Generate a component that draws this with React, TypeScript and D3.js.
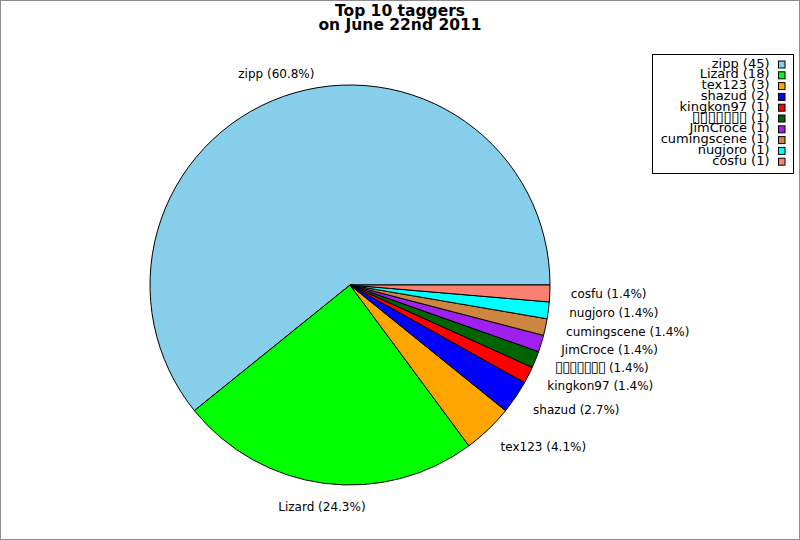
import React from 'react';
import * as d3 from 'd3';

const names = ['zipp', 'Lizard', 'tex123', 'shazud', 'kingkon97', '\u25AF\u25AF\u25AF\u25AF\u25AF\u25AF\u25AF', 'JimCroce', 'cumingscene', 'nugjoro', 'cosfu'];
const counts = [45, 18, 3, 2, 1, 1, 1, 1, 1, 1];
const colors = ['#87CEEB', '#00FF00', '#FFA500', '#0000FF', '#FF0000', '#006400', '#A020F0', '#CD853F', '#00FFFF', '#FA8072'];
const titleLines = ['Top 10 taggers', 'on June 22nd 2011'];

const W = 800, H = 540;
const CX = 350, CY = 285, RAD = 200;
const FONT = 'DejaVu Sans, sans-serif';

function alignFrac(phiDeg: number) {
  const p = ((phiDeg % 360) + 360) % 360;
  if (p <= 45 || p >= 315) return 0;
  if (p < 67.5) return ((p - 45) / 22.5) * 0.5;
  if (p <= 112.5) return 0.5;
  if (p < 135) return 0.5 + ((p - 112.5) / 22.5) * 0.5;
  if (p <= 225) return 1;
  if (p < 247.5) return 1 - ((p - 225) / 22.5) * 0.5;
  if (p <= 292.5) return 0.5;
  return 0.5 - ((p - 292.5) / 22.5) * 0.5;
}

function addName(sel: d3.Selection<SVGTextElement, unknown, null, undefined>, name: string, suffix: string, boxRun: number, boxSize: number) {
  if (/^\u25AF+$/.test(name)) {
    const ts = sel.append('tspan').attr('font-family', 'DejaVu Sans').attr('font-size', boxSize).text(name);
    const w = (ts.node() as SVGTSpanElement).getComputedTextLength();
    ts.attr('letter-spacing', (boxRun - w) / name.length);
    sel.append('tspan').text(' ' + suffix);
  } else {
    sel.text(name + ' ' + suffix);
  }
}

export default function App() {
  const ref = React.useRef<SVGSVGElement>(null);
  React.useEffect(() => {
    const svg = d3.select(ref.current as SVGSVGElement);
    svg.selectAll('*').remove();

    svg.append('rect').attr('x', 0).attr('y', 0).attr('width', W).attr('height', H).attr('fill', '#fff');
    svg.append('rect').attr('x', 0.5).attr('y', 0.5).attr('width', W - 1).attr('height', H - 1)
      .attr('fill', 'none').attr('stroke', '#8c8c8c').attr('stroke-width', 1);

    // title
    const title = svg.append('g');
    titleLines.forEach((t, i) => {
      title.append('text').attr('x', 400).attr('y', 15.5 + i * 14)
        .attr('text-anchor', 'middle').attr('font-family', FONT).attr('font-weight', 'bold')
        .attr('font-size', 15.5).attr('fill', '#000').text(t);
    });

    const total = d3.sum(counts);
    const pie = d3.pie<number>().sort(null).value((d) => d)
      .startAngle(Math.PI / 2).endAngle(Math.PI / 2 - 2 * Math.PI);
    const arcs = pie(counts);
    const arc = d3.arc<d3.PieArcDatum<number>>().innerRadius(0).outerRadius(RAD);

    const g = svg.append('g').attr('transform', `translate(${CX},${CY})`);
    g.selectAll('path').data(arcs).enter().append('path')
      .attr('d', (d) => arc(d) as string)
      .attr('fill', (_d, i) => colors[i])
      .attr('stroke', '#000').attr('stroke-width', 1).attr('stroke-linejoin', 'round');

    // slice labels
    arcs.forEach((a, i) => {
      const theta = (a.startAngle + a.endAngle) / 2;
      const phi = Math.PI / 2 - theta;
      const phiDeg = (phi * 180) / Math.PI;
      const x = CX + 221 * Math.cos(phi);
      const y = CY - 224 * Math.sin(phi);
      const t = svg.append('text').attr('x', x).attr('y', y + 3.9)
        .attr('font-family', FONT).attr('font-size', 12).attr('fill', '#000');
      addName(t, names[i], `(${((a.value / total) * 100).toFixed(1)}%)`, 50, 15);
      const w = (t.node() as SVGTextElement).getComputedTextLength();
      t.attr('x', x - alignFrac(phiDeg) * w);
    });

    // legend
    const lg = svg.append('g');
    lg.append('rect').attr('x', 652.5).attr('y', 54.5).attr('width', 141).attr('height', 119)
      .attr('fill', '#fff').attr('stroke', '#000').attr('stroke-width', 1);
    names.forEach((n, i) => {
      const base = 67.5 + i * 10.8;
      const t = lg.append('text').attr('x', 769.5).attr('y', base).attr('text-anchor', 'end')
        .attr('font-family', FONT).attr('font-size', 13).attr('fill', '#000');
      addName(t, n, `(${counts[i]})`, 55, 16);
      lg.append('rect').attr('x', 778.5).attr('y', 61 + i * 10.8).attr('width', 6.5).attr('height', 7)
        .attr('fill', colors[i]).attr('stroke', '#000').attr('stroke-width', 1);
    });
  }, []);
  return <svg ref={ref} width={W} height={H} style={{ position: 'absolute', left: 0, top: 0 }} />;
}
